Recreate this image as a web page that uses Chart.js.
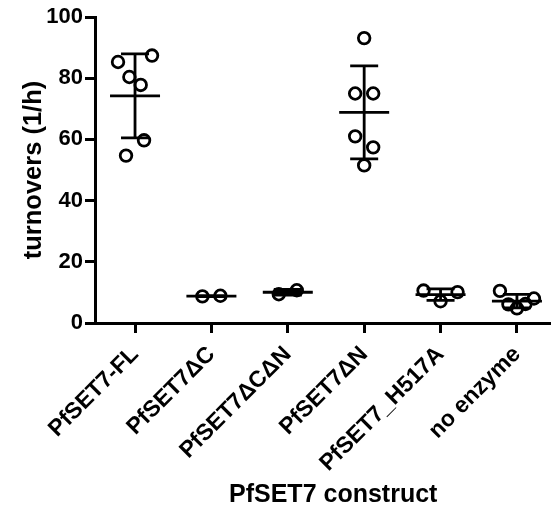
<!DOCTYPE html>
<html>
<head>
<meta charset="utf-8">
<script src="https://cdn.jsdelivr.net/npm/chart.js@4"></script>
<style>
  html, body { margin: 0; padding: 0; background: #fff; overflow: hidden; }
  #wrap { width: 551px; height: 510px; overflow: hidden; }
</style>
</head>
<body>
<div id="wrap"><canvas id="turnoverChart" width="580" height="510"></canvas></div>
<script>
// Categories and measured turnovers (1/h) per construct
const constructs = ['PfSET7-FL', 'PfSET7ΔC', 'PfSET7ΔCΔN', 'PfSET7ΔN', 'PfSET7_H517A', 'no enzyme'];
const flValues = [85.3, 80.4, 77.8, 87.4, 54.7, 59.7];
const dcValues = [8.7, 8.9];
const dcdnValues = [9.4, 10.7];
const dnValues = [93.1, 75.0, 75.0, 61.0, 57.4, 51.5];
const h517aValues = [10.6, 7.1, 10.1];
const noEnzymeValues = [10.5, 6.1, 4.8, 6.2, 8.0];
const yTicks = [0, 20, 40, 60, 80, 100];

const groups = [flValues, dcValues, dcdnValues, dnValues, h517aValues, noEnzymeValues];

const FONT = '"Liberation Sans", Arial, sans-serif';

// mean and sample SD of a group
const stats = vals => {
    const mean = vals.reduce((a, b) => a + b, 0) / vals.length;
    const v = vals.reduce((a, b) => a + (b - mean) * (b - mean), 0) / (vals.length - 1);
    return { mean, sd: Math.sqrt(v) };
};

// spread overlapping points sideways, like a column scatter plot
const swarmPlugin = {
    id: 'swarm',
    afterDatasetsUpdate(chart) {
        chart.data.datasets.forEach((ds, i) => {
            const pts = chart.getDatasetMeta(i).data;
            const order = pts.map((p, k) => k).sort((a, b) => pts[b].y - pts[a].y);
            const clusters = [];
            let cur = [];
            order.forEach(k => {
                if (cur.length && Math.abs(pts[k].y - pts[cur[cur.length - 1]].y) >= 16) {
                    clusters.push(cur);
                    cur = [];
                }
                cur.push(k);
            });
            clusters.push(cur);
            clusters.forEach(c => {
                c.sort((a, b) => a - b);
                const step = c.length > 1 ? Math.min(18, 34 / (c.length - 1)) : 0;
                c.forEach((k, j) => {
                    pts[k].x += (j - (c.length - 1) / 2) * step;
                });
            });
        });
    }
};

// mean line with SD whiskers
const errorBarPlugin = {
    id: 'errorBars',
    afterDatasetsDraw(chart) {
        const ctx = chart.ctx;
        const xs = chart.scales.x;
        const ys = chart.scales.y;
        ctx.save();
        ctx.strokeStyle = '#000';
        ctx.lineWidth = 2.8;
        groups.forEach((vals, i) => {
            const s = stats(vals);
            const x = xs.getPixelForValue(i);
            const yMean = ys.getPixelForValue(s.mean);
            const yTop = ys.getPixelForValue(s.mean + s.sd);
            const yBot = ys.getPixelForValue(s.mean - s.sd);
            ctx.beginPath();
            ctx.moveTo(x - 25, yMean);
            ctx.lineTo(x + 25, yMean);
            ctx.moveTo(x, yTop);
            ctx.lineTo(x, yBot);
            ctx.moveTo(x - 14, yTop);
            ctx.lineTo(x + 14, yTop);
            ctx.moveTo(x - 14, yBot);
            ctx.lineTo(x + 14, yBot);
            ctx.stroke();
        });
        ctx.restore();
    }
};

const renderChart = () => {
    const ctx = document.getElementById('turnoverChart').getContext('2d');

    new Chart(ctx, {
        type: 'scatter',
        data: {
            datasets: groups.map((vals, i) => ({
                label: constructs[i],
                data: vals.map(v => ({ x: i, y: v })),
                pointStyle: 'circle',
                pointRadius: 5.8,
                pointBorderWidth: 2.8,
                pointBorderColor: '#000',
                pointBackgroundColor: 'rgba(0,0,0,0)',
            })),
        },
        options: {
            responsive: false,
            animation: false,
            events: [],
            layout: { padding: { top: 17, right: 0, left: 0, bottom: 0 } },
            plugins: {
                legend: { display: false },
                tooltip: { enabled: false },
            },
            scales: {
                x: {
                    type: 'linear',
                    min: -0.524,
                    max: 5.713,
                    afterFit: scale => {
                        scale.height = 187;
                        scale.paddingRight = 0;
                    },
                    afterBuildTicks: scale => {
                        scale.ticks = constructs.map((c, i) => ({ value: i }));
                    },
                    ticks: {
                        autoSkip: false,
                        includeBounds: false,
                        minRotation: 45,
                        maxRotation: 45,
                        padding: 8,
                        color: '#000',
                        font: { family: FONT, size: 23, weight: 'bold' },
                        callback: v => constructs[v],
                    },
                    grid: {
                        drawOnChartArea: false,
                        drawTicks: true,
                        tickLength: 10,
                        tickWidth: 3,
                        tickColor: '#000',
                    },
                    border: { display: true, width: 3, color: '#000' },
                    title: {
                        display: true,
                        text: 'PfSET7 construct',
                        color: '#000',
                        font: { family: FONT, size: 25, weight: 'bold' },
                        padding: { top: 0, bottom: 0 },
                    },
                },
                y: {
                    min: 0,
                    max: 100,
                    afterFit: scale => { scale.width = 95; },
                    afterBuildTicks: scale => {
                        scale.ticks = yTicks.map(v => ({ value: v }));
                    },
                    ticks: {
                        padding: 2,
                        color: '#000',
                        font: { family: FONT, size: 22, weight: 'bold' },
                    },
                    grid: {
                        drawOnChartArea: false,
                        drawTicks: true,
                        tickLength: 10,
                        tickWidth: 3,
                        tickColor: '#000',
                    },
                    border: { display: true, width: 3, color: '#000' },
                    title: {
                        display: true,
                        text: 'turnovers (1/h)',
                        color: '#000',
                        font: { family: FONT, size: 25.5, weight: 'bold' },
                        padding: { top: 19, bottom: 0 },
                    },
                },
            },
        },
        plugins: [swarmPlugin, errorBarPlugin],
    });
};

renderChart();
</script>
</body>
</html>
